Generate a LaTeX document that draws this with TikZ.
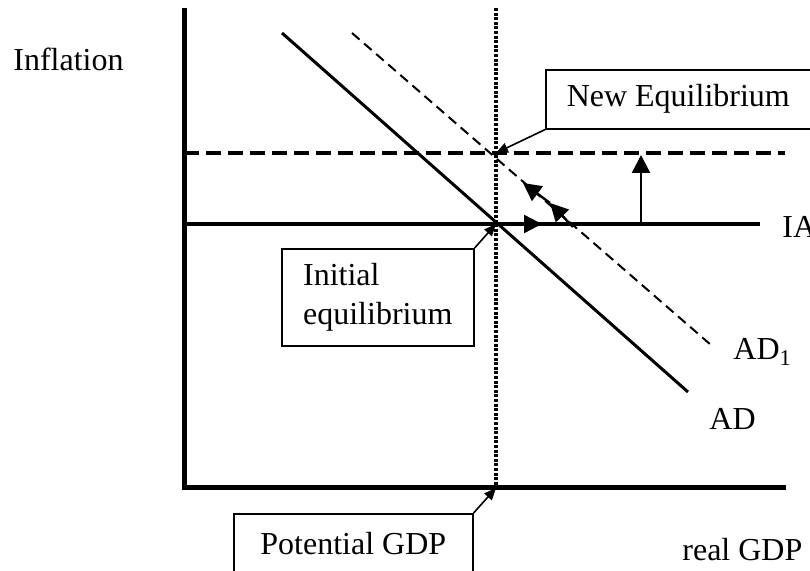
\documentclass[tikz,border=0pt]{standalone}
\usepackage{fontspec}
\setmainfont{Liberation Serif}
\usetikzlibrary{arrows.meta}
\begin{document}
\begin{tikzpicture}[x=0.5pt,y=-0.5pt,
  lbl/.style={font=\fontsize{16}{19.5}\selectfont, inner sep=0pt, anchor=base west},
  box/.style={draw, line width=0.8pt, font=\fontsize{16}{19.5}\selectfont, inner sep=0pt, anchor=north west},
  axis/.style={line width=2.5pt},
  solidline/.style={line width=1.8pt},
  thinline/.style={line width=1.5pt},
  dashedline/.style={line width=1.7pt, dash pattern=on 7.5pt off 3.5pt},
  dashedthin/.style={line width=1pt, dash pattern=on 5pt off 3pt},
  dottedline/.style={line width=2.2pt, dash pattern=on 1.5pt off 0.8pt},
  ptr/.style={line width=0.8pt, -{Triangle[length=6pt,width=5pt]}},
  bigtip/.style={line width=1.2pt, -{Triangle[length=9pt,width=9pt]}},
]
\clip (0,0) rectangle (810,571);

% key points
\coordinate (Ytop) at (184,8);
\coordinate (O) at (184,488);
\coordinate (Xend) at (786,488);
\coordinate (Ptop) at (496,8);
\coordinate (P) at (496,488);
\coordinate (E0) at (496,224);
\coordinate (E1) at (496,153);
\coordinate (IAl) at (184,224);
\coordinate (IAr) at (760,224);
\coordinate (NDl) at (184,153);
\coordinate (NDr) at (785,153);
\coordinate (ADa) at (282,33);
\coordinate (ADb) at (688,392);
\coordinate (ADa1) at (352,33);
\coordinate (ADb1) at (711,345);
\coordinate (IAarr) at (542,224);
\coordinate (Va) at (641,224);
\coordinate (Vb) at (641,155);
\coordinate (Sa) at (573,227);
\coordinate (Sb) at (550,203);
\coordinate (Sc) at (523,183);

% axes
\draw[axis] (Ytop) -- (O) -- (Xend);
% potential GDP line
\draw[dottedline] (Ptop) -- (P);
% IA lines
\draw[solidline] (IAl) -- (IAr);
\draw[dashedline] (NDl) -- (NDr);
% AD curves
\draw[thinline] (ADa) -- (ADb);
\draw[dashedthin] (ADa1) -- (ADb1);

% movement arrows
\draw[bigtip] (E0) -- (IAarr);
\draw[bigtip] (Va) -- (Vb);
\draw[bigtip] (Sa) -- (Sb);
\draw[bigtip] (Sb) -- (Sc);

% labels
\node[lbl] (infl) at (13,71) {Inflation};
\node[lbl] (rgdp) at (682,561) {real GDP};
\node[lbl] (ia) at (782,238) {IA};
\node[lbl] (ad1) at (733,360) {AD\textsubscript{1}};
\node[lbl] (ad) at (709,430) {AD};

% boxes
\node[box, minimum width=132.5pt, minimum height=29.5pt, align=center] (neq) at (545,69) {New Equilibrium};
\node[box, minimum width=96pt, minimum height=48.5pt, align=left] (init) at (281,248) {Initial\\equilibrium};
\node[box, minimum width=119.5pt, minimum height=30pt, align=center] (pot) at (233,513) {Potential GDP};

% pointers
\draw[ptr] (neq.south west) -- (E1);
\draw[ptr] (init.north east) -- (E0);
\draw[ptr] (pot.north east) -- (P);
\end{tikzpicture}
\end{document}
